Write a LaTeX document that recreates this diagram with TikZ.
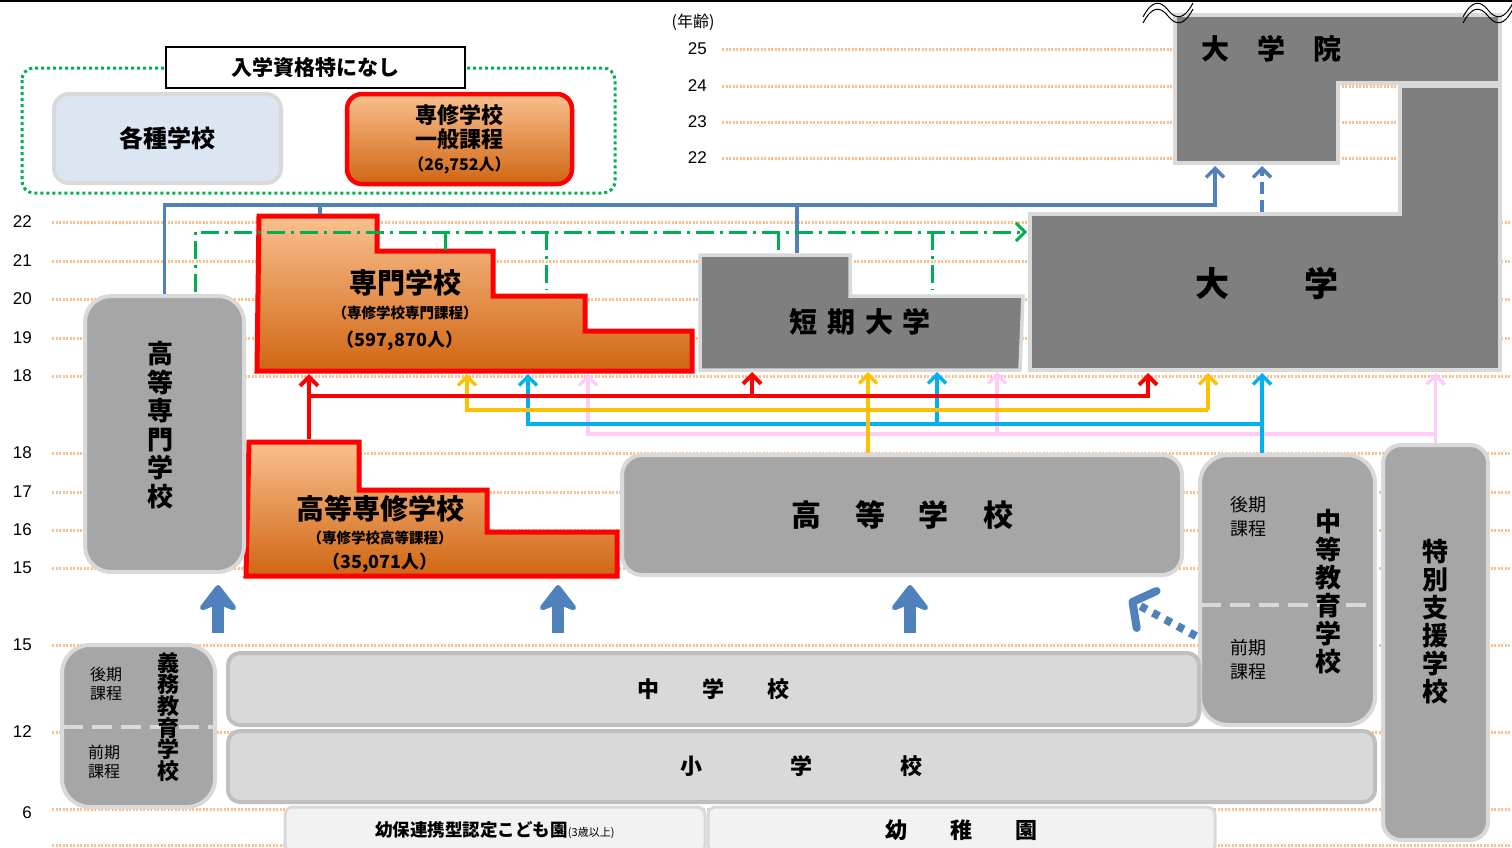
\documentclass[tikz,border=0pt]{standalone}
\usepackage{fontspec}
\setmainfont{Liberation Sans}
\newfontfamily\jp{Noto Sans CJK JP}
\usetikzlibrary{arrows.meta}

\definecolor{agedot}{RGB}{250,192,143}
\definecolor{boxgray}{RGB}{166,166,166}
\definecolor{unigray}{RGB}{127,127,127}
\definecolor{edgegray}{RGB}{217,217,217}
\definecolor{lightfill}{RGB}{217,217,217}
\definecolor{lightedge}{RGB}{191,191,191}
\definecolor{palebox}{RGB}{242,242,242}
\definecolor{paleblue}{RGB}{220,230,242}
\definecolor{linkblue}{RGB}{79,129,189}
\definecolor{linkgreen}{RGB}{0,176,80}
\definecolor{linkyellow}{RGB}{255,192,0}
\definecolor{linkcyan}{RGB}{0,176,240}
\definecolor{linkpink}{RGB}{255,204,250}
\definecolor{orangetop}{RGB}{250,192,143}
\definecolor{orangebot}{RGB}{208,102,18}

\begin{document}
\begin{tikzpicture}[x=1pt, y=-1pt,
  agegrid/.style={agedot, line width=3pt, dash pattern=on 2pt off 1.5pt},
  agenum/.style={font=\fontsize{17}{17}\selectfont, anchor=east, inner sep=0pt},
  graybox/.style={draw=edgegray, fill=boxgray, line width=4pt, inner sep=0pt},
  darkblock/.style={draw=edgegray, fill=unigray, line width=3.5pt},
  lightblock/.style={draw=lightedge, fill=lightfill, line width=4pt, rounded corners=12pt, inner sep=0pt},
  paleblock/.style={draw=edgegray, fill=palebox, line width=3pt, rounded corners=8pt, inner sep=0pt},
  senshublock/.style={draw=red, line width=5pt, top color=orangetop, bottom color=orangebot},
  jtext/.style={font=\jp\bfseries\fontsize{#1}{#1}\selectfont, inner sep=0pt},
  tate/.style 2 args={font=\jp\bfseries\fontsize{#1}{#2}\selectfont, align=center, inner sep=0pt},
  kana/.style 2 args={font=\jp\fontsize{#1}{#2}\selectfont, align=center, inner sep=0pt},
  link/.style={line width=3.5pt, -{Straight Barb[length=9pt,width=18pt]}},
  bluelink/.style={link, linkblue},
  greenlink/.style={link, linkgreen, line width=3pt, dash pattern=on 18pt off 6pt on 3pt off 6pt},
  bigarrow/.style={linkblue, line width=12pt, -{Stealth[length=30pt,width=46pt,inset=9pt,round]}}]
\useasboundingbox (0,0) rectangle (1512,847);
\draw[line width=2pt] (0,1) -- (1512,1);

% age lines
\foreach \y in {222,261,299,338,376,453,492,530,568,645,732,809,845}
  \draw[agegrid] (52,\y) -- (1510,\y);
\foreach \y in {49,86,122,158}
  \draw[agegrid] (722,\y) -- (1500,\y);
\foreach \y/\a in {222/22,261/21,299/20,338/19,376/18,453/18,492/17,530/16,568/15,645/15,732/12,813/6,862/3}
  \node[agenum] (age-\y) at (32,\y) {\a};
\foreach \y/\a in {49/25,86/24,122/23,158/22}
  \node[agenum] (top-\y) at (707,\y) {\a};
\node[kana={16}{16}] (nenrei) at (693,22) {(年齢)};

% no entrance requirement group
\draw[linkgreen, line width=3pt, dash pattern=on 3pt off 3pt, rounded corners=12pt] (22,68) rectangle (615,193);
\node[draw, fill=white, line width=1.2pt, minimum width=299pt, minimum height=41pt, jtext=21] (nyugaku) at (315.5,67.5) {入学資格特になし};
\node[draw=edgegray, fill=paleblue, line width=4pt, rounded corners=15pt, minimum width=227pt, minimum height=89pt, jtext=24] (kakushu) at (167.5,138.5) {各種学校};
\node[senshublock, line width=4.5pt, rounded corners=15pt, minimum width=225pt, minimum height=90pt, align=center, jtext=22] (ippan) at (459.5,139) {専修学校\\[2pt]一般課程\\[1pt]\fontsize{16}{16}\selectfont（26,752人）};

% graduate school, university, junior college
\draw[darkblock] (1175,15) -- (1500,15) -- (1500,83) -- (1338,83) -- (1338,163) -- (1175,163) -- cycle;
\node[jtext=28, anchor=west] (daigakuin) at (1201,49) {大\hspace{28pt}学\hspace{28pt}院};
\draw[darkblock] (1030,214) -- (1400,214) -- (1400,86) -- (1500,86) -- (1500,370) -- (1030,370) -- cycle;
\node[jtext=34] (daigaku) at (1267,283) {大\hspace{75pt}学};
\draw[darkblock] (700,255) -- (850,255) -- (850,296) -- (1023,296) -- (1020,370) -- (700,370) -- cycle;
\node[jtext=28] (tandai) at (860,322) {短\hspace{10pt}期\hspace{10pt}大\hspace{10pt}学};
\foreach \x/\w in {1143/0,1463/0}{
  \draw[line width=1pt] (\x,17) .. controls (\x+9,0) and (\x+17,0) .. (\x+25,10) .. controls (\x+33,20) and (\x+41,20) .. (\x+50,3);
  \draw[line width=1pt] (\x,23) .. controls (\x+9,6) and (\x+17,6) .. (\x+25,16) .. controls (\x+33,26) and (\x+41,26) .. (\x+50,9);
}

% vocational schools
\draw[senshublock] (259,216) -- (377,216) -- (377,251) -- (493,251) -- (493,296) -- (585,296) -- (585,331) -- (692,331) -- (692,371) -- (257,371) -- cycle;
\node[jtext=28] (senmon) at (405,283) {専門学校};
\node[jtext=14.5] (senmon-sub) at (405,313) {（専修学校専門課程）};
\node[jtext=18] (senmon-num) at (400,341) {（597,870人）};
\draw[senshublock] (249,442) -- (359,442) -- (359,490) -- (487,490) -- (487,532) -- (617,532) -- (617,576) -- (246,576) -- cycle;
\node[jtext=28] (kousen) at (380,509) {高等専修学校};
\node[jtext=14.5] (kousen-sub) at (380,538) {（専修学校高等課程）};
\node[jtext=18] (kousen-num) at (380,563) {（35,071人）};

% secondary schools
\node[graybox, rounded corners=26pt, minimum width=159pt, minimum height=276pt] (kosen) at (164.5,434) {};
\node[tate={26}{28.5}] (kosen-label) at (160,425) {高\\等\\専\\門\\学\\校};
\node[graybox, rounded corners=20pt, minimum width=560pt, minimum height=120pt, jtext=30] (koukou) at (902,515) {高\hspace{34pt}等\hspace{34pt}学\hspace{34pt}校};
\node[graybox, rounded corners=28pt, minimum width=175pt, minimum height=270pt] (chutou) at (1287.5,590) {};
\draw[edgegray, line width=4pt, dash pattern=on 20pt off 9pt] ([xshift=3pt]chutou.west |- 0,605) -- ([xshift=-3pt]chutou.east |- 0,605);
\node[kana={18}{24}] (chutou-kouki) at (1248,517) {後期\\課程};
\node[kana={18}{24}] (chutou-zenki) at (1248,660) {前期\\課程};
\node[tate={26}{28}] (chutou-label) at (1328,592) {中\\等\\教\\育\\学\\校};
\node[graybox, rounded corners=18pt, minimum width=105pt, minimum height=395pt] (tokubetsu) at (1435.5,642.5) {};
\node[tate={26}{28}] (tokubetsu-label) at (1435,622) {特\\別\\支\\援\\学\\校};

% compulsory education
\node[graybox, rounded corners=28pt, minimum width=153pt, minimum height=162pt] (gimu) at (138.5,726) {};
\draw[edgegray, line width=4pt, dash pattern=on 20pt off 9pt] ([xshift=3pt]gimu.west |- 0,727) -- ([xshift=-3pt]gimu.east |- 0,727);
\node[kana={16}{19}] (gimu-kouki) at (106,684) {後期\\課程};
\node[kana={16}{19}] (gimu-zenki) at (104,762) {前期\\課程};
\node[tate={22}{21.7}] (gimu-label) at (168,717) {義\\務\\教\\育\\学\\校};
\node[lightblock, minimum width=971pt, minimum height=72pt, jtext=22] (chugaku) at (713.5,689) {中\hspace{43pt}学\hspace{43pt}校};
\node[lightblock, minimum width=1147pt, minimum height=71pt, jtext=22] (shogaku) at (801.5,766.5) {小\hspace{88pt}学\hspace{88pt}校};
\node[paleblock, minimum width=420pt, minimum height=46pt, jtext=17.5] (kodomoen) at (495,830) {幼保連携型認定こども園{\mdseries\fontsize{11}{11}\selectfont(3歳以上)}};
\node[paleblock, minimum width=507pt, minimum height=46pt, jtext=22] (youchien) at (961.5,830) {幼\hspace{43pt}稚\hspace{43pt}園};

% connector ends
\coordinate (senmon-n) at (320,214);
\coordinate (senmon-s) at (475,374);
\coordinate (senmon-g1) at (445,250);
\coordinate (senmon-g2) at (546,290);
\coordinate (tandai-n) at (797,253);
\coordinate (tandai-s) at (860,372);
\coordinate (tandai-g1) at (778,253);
\coordinate (tandai-g2) at (932,290);
\coordinate (daigaku-n) at (1262,212);
\coordinate (daigaku-s) at (1265,373);
\coordinate (daigaku-w) at (1027,232);
\coordinate (in-a) at (1215,166);
\coordinate (in-b) at (1262,166);
\coordinate (ks-n) at (309,439);
\coordinate (kosen-g) at (195,292);
\coordinate (bluerail) at (0,205);
\coordinate (greenrail) at (0,232);
\coordinate (redrail) at (0,396);
\coordinate (yellowrail) at (0,410);
\coordinate (cyanrail) at (0,424);
\coordinate (pinkrail) at (0,434);

% routes upward
\draw[bluelink] (kosen.north) -- (kosen.north |- bluerail) -- (in-a |- bluerail) -- (in-a);
\draw[bluelink, -] (senmon-n |- bluerail) -- (senmon-n);
\draw[bluelink, -] (tandai-n |- bluerail) -- (tandai-n);
\draw[bluelink, dash pattern=on 12pt off 6pt] (daigaku-n) -- (in-b);
\draw[greenlink] (kosen-g) -- (kosen-g |- greenrail) -- (daigaku-w);
\foreach \p in {senmon-g1,senmon-g2,tandai-g1,tandai-g2}
  \draw[greenlink, -] (\p |- greenrail) -- (\p);

\draw[link, linkpink] (tokubetsu.north) -- (tokubetsu.north |- daigaku-s);
\draw[link, linkpink] (tokubetsu.north |- pinkrail) -| (588,0 |- senmon-s);
\draw[link, linkpink] (997,0 |- pinkrail) -- (997,0 |- tandai-s);
\draw[link, linkcyan] (chutou.north -| in-b) -- (in-b |- daigaku-s);
\draw[link, linkcyan] (in-b |- cyanrail) -| (528,0 |- senmon-s);
\draw[link, linkcyan] (937,0 |- cyanrail) -- (937,0 |- tandai-s);
\draw[link, linkyellow] (koukou.north -| 868,0) -- (868,0 |- tandai-s);
\draw[link, linkyellow] (1208,0 |- yellowrail) -| (467,0 |- senmon-s);
\draw[link, linkyellow] (1208,0 |- yellowrail) -- (1208,0 |- daigaku-s);
\draw[link, red, line width=4pt] (ks-n) -- (ks-n |- senmon-s);
\draw[link, red, line width=4pt] (ks-n |- redrail) -| (1148,0 |- daigaku-s);
\draw[link, red, line width=4pt] (752,0 |- redrail) -- (752,0 |- tandai-s);

% from lower secondary
\foreach \x in {218,558,910}
  \draw[bigarrow] (\x,633) -- (\x,585);
\draw[linkblue, line width=8pt, dash pattern=on 7pt off 7pt, -{Straight Barb[length=16pt,width=42pt,round]}] (1196,636) -- (1129,600);
\end{tikzpicture}
\end{document}
